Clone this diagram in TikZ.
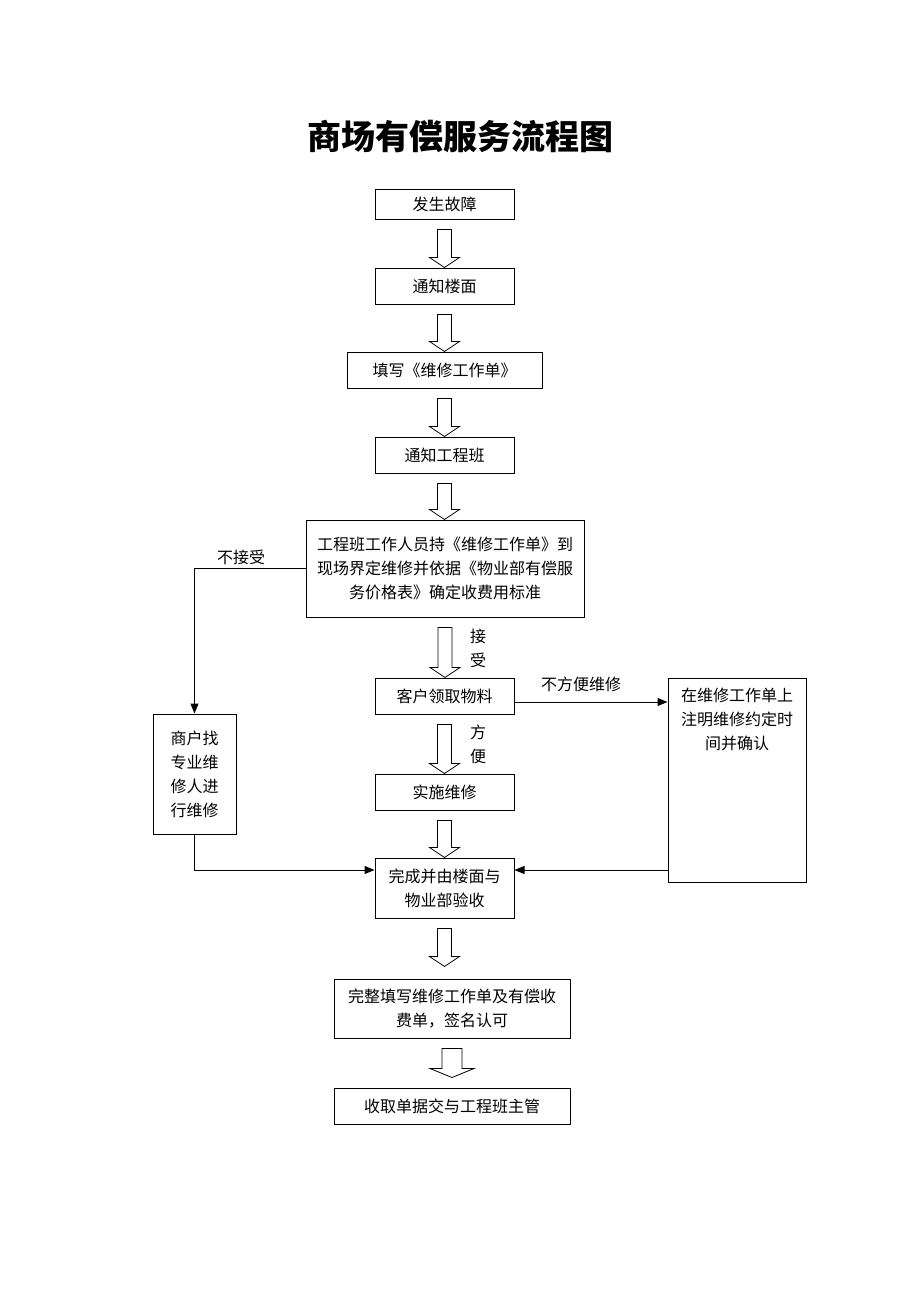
\documentclass[tikz,border=0pt]{standalone}
\usepackage{fontspec}
\setmainfont{Noto Sans CJK SC}
\usetikzlibrary{arrows.meta,calc}
\tikzset{
  stepbox/.style = {draw, line width=1pt, minimum height=36, align=center,
                    inner sep=2pt, font=\fontsize{16}{24}\selectfont},
  note/.style    = {inner sep=0pt, align=center, font=\fontsize{16}{24}\selectfont},
  link/.style    = {line width=1pt, -{Triangle[length=10pt,width=8pt]}},
  hollow/.style  = {draw, line width=0.8pt, fill=white, line join=miter}
}
\newcommand{\shafthalf}{7}
\newcommand{\headhalf}{15}
\newcommand{\headlen}{10}
\newcommand{\blockarrow}[3][0]{%
  \draw[hollow] let \p1=(#2.south), \p2=(#3.north) in
    (\x1-\shafthalf,\y1-10) -- (\x1+\shafthalf,\y1-10)
    -- (\x1+\shafthalf,\y2+#1+\headlen) -- (\x1+\headhalf,\y2+#1+\headlen)
    -- (\x1,\y2+#1) -- (\x1-\headhalf,\y2+#1+\headlen)
    -- (\x1-\shafthalf,\y2+#1+\headlen) -- cycle;}

\begin{document}
\begin{tikzpicture}[x=1pt,y=-1pt]
	\useasboundingbox (0,0) rectangle (920,1302);
	\node[font=\fontsize{34}{40}\selectfont\bfseries] (title) at (460,137) {商场有偿服务流程图};
	\node[stepbox, minimum width=139, minimum height=30] (fault) at (444.5,204) {发生故障};
	\node[stepbox, minimum width=139] (notify) at (444.5,286) {通知楼面};
	\node[stepbox, minimum width=195] (form) at (444.5,370) {填写《维修工作单》};
	\node[stepbox, minimum width=139] (team) at (444.5,455) {通知工程班};
	\node[stepbox, minimum width=278, minimum height=97] (assess) at (445,568.5)
		{工程班工作人员持《维修工作单》到\\现场界定维修并依据《物业部有偿服\\务价格表》确定收费用标准};
	\node[stepbox, minimum width=139] (material) at (444.5,696) {客户领取物料};
	\node[stepbox, minimum width=139] (repair) at (444.5,792) {实施维修};
	\node[stepbox, minimum width=139, minimum height=60] (accept) at (444.5,888) {完成并由楼面与\\物业部验收};
	\node[stepbox, minimum width=236, minimum height=59] (fill) at (452,1008.5) {完整填写维修工作单及有偿收\\费单，签名认可};
	\node[stepbox, minimum width=236] (hand) at (452,1106) {收取单据交与工程班主管};
	\node[stepbox, minimum width=83, minimum height=120] (self) at (194.5,774) {商户找\\专业维\\修人进\\行维修};
	\node[stepbox, minimum width=138, minimum height=204] (confirm) at (737,780) {};
	\node[note, anchor=north] (confirmtext) at ([yshift=-10pt]confirm.north) {在维修工作单上\\注明维修约定时\\间并确认};

	\blockarrow{fault}{notify}
	\blockarrow{notify}{form}
	\blockarrow{form}{team}
	\blockarrow{team}{assess}
	\blockarrow{assess}{material}
	\blockarrow{material}{repair}
	\blockarrow{repair}{accept}
	\blockarrow[12]{accept}{fill}
	\renewcommand{\shafthalf}{10}
	\renewcommand{\headhalf}{22}
	\renewcommand{\headlen}{9}
	\blockarrow[10]{fill}{hand}

	\coordinate (outM) at ([yshift=-6pt]material.east);
	\coordinate (inL) at ([yshift=18pt]accept.west);
	\coordinate (inR) at ([yshift=18pt]accept.east);
	\draw[link] (assess.west) -| (self.north);
	\draw[link] (outM) -- (outM -| confirm.west);
	\draw[link] (self.south) |- (inL);
	\draw[link] (confirm.west |- inR) -- (inR);

	\node[note] (refuse) at (241,557) {不接受};
	\node[note] (agree) at (478,648) {接\\受};
	\node[note] (inconv) at (581,684) {不方便维修};
	\node[note] (conv) at (478,744) {方\\便};
\end{tikzpicture}
\end{document}
